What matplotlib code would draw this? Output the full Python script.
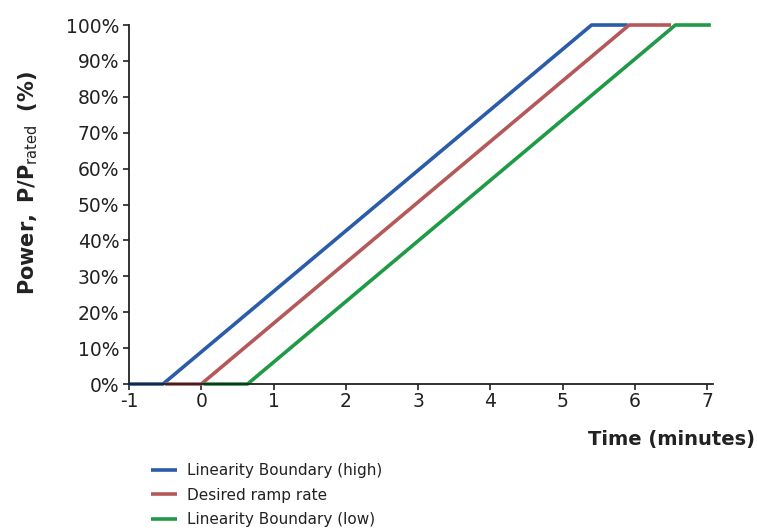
import matplotlib
matplotlib.use("Agg")
import matplotlib.pyplot as plt

# Data
high_x = [-1.0, -0.53, 5.40, 5.90]
high_y = [0, 0, 100, 100]
ramp_x = [-0.50, 0.0, 5.92, 6.50]
ramp_y = [0, 0, 100, 100]
low_x = [0.03, 0.64, 6.56, 7.05]
low_y = [0, 0, 100, 100]
labels = ["Linearity Boundary (high)", "Desired ramp rate", "Linearity Boundary (low)"]
colors = ["#2a5caa", "#b5585a", "#1f9a47"]
xticks = [-1, 0, 1, 2, 3, 4, 5, 6, 7]
yticks = [0, 10, 20, 30, 40, 50, 60, 70, 80, 90, 100]

fig = plt.figure(figsize=(7.57, 5.31), dpi=100)
ax = fig.add_axes([0.1704, 0.2768, 0.7715, 0.6761])

lines = []
for xs, ys, c, lab in zip([high_x, ramp_x, low_x], [high_y, ramp_y, low_y], colors, labels):
    l, = ax.plot(xs, ys, color=c, lw=2.6, label=lab, clip_on=False, solid_capstyle="butt")
    lines.append(l)

ax.set_xlim(-1, 7.08)
ax.set_ylim(0, 100)
ax.set_xticks(xticks)
ax.set_xticklabels([str(t) for t in xticks])
ax.set_yticks(yticks)
ax.set_yticklabels([f"{t}%" for t in yticks])
for s in ["top", "right"]:
    ax.spines[s].set_visible(False)
for s in ["left", "bottom"]:
    ax.spines[s].set_linewidth(1.3)
    ax.spines[s].set_color("#222222")
ax.tick_params(axis="both", direction="out", length=4, width=1.2, color="#222222",
               labelsize=13.5, labelcolor="#222222")
ax.tick_params(axis="y", pad=3)
ax.tick_params(axis="x", pad=2)

ax.set_ylabel(r"$\mathbf{Power,\ P/P}_{\mathrm{rated}}\ \ \mathbf{(\%)}$", fontsize=15,
              color="#222222")
ax.yaxis.set_label_coords(-0.152, 0.56)
fig.text(0.997, 0.172, "Time (minutes)", ha="right", va="center", fontsize=14,
         fontweight="bold", color="#222222")

fig.legend(handles=lines, labels=labels, loc="upper left", bbox_to_anchor=(0.2, 0.128),
           frameon=False, fontsize=11, handlelength=1.7, handletextpad=0.65,
           labelspacing=0.62, borderpad=0, borderaxespad=0, labelcolor="#222222")

fig.savefig("out.png", dpi=100)
